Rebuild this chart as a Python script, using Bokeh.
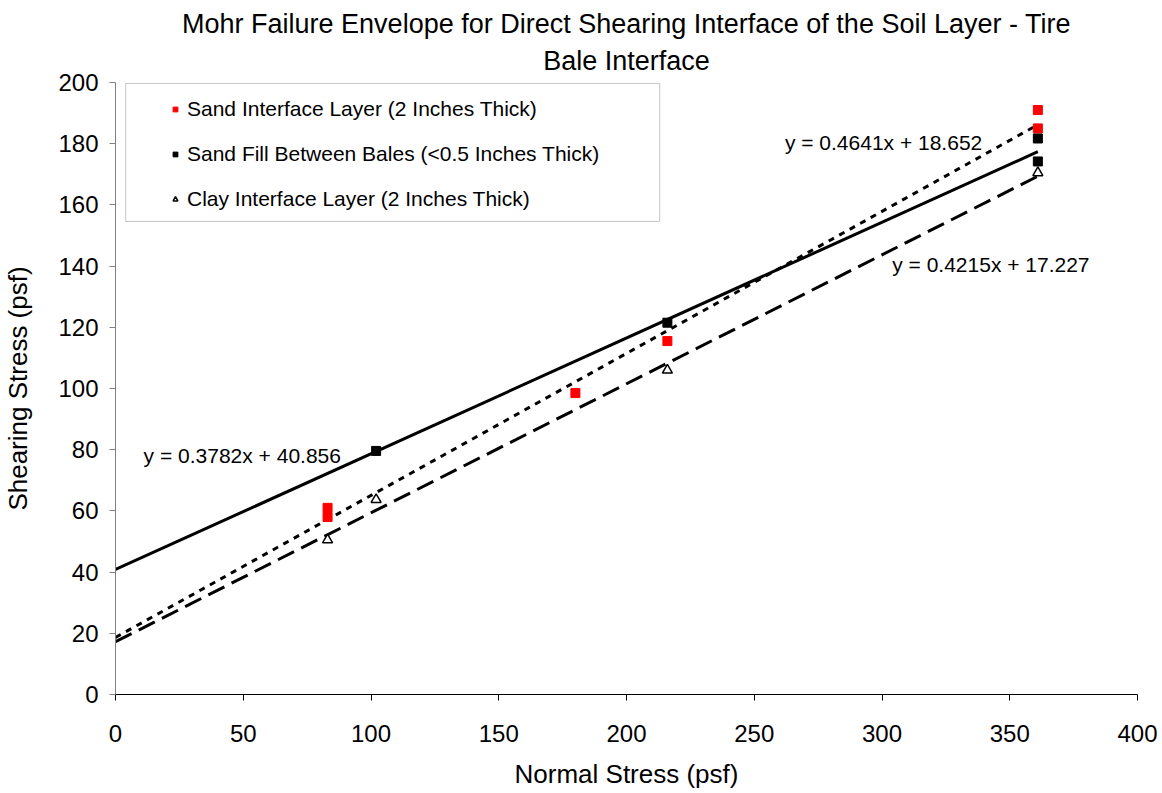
from bokeh.plotting import figure
from bokeh.models import Legend, LegendItem, Label, BoxAnnotation, FixedTicker, Range1d, Title
from bokeh.embed import file_html
from bokeh.resources import INLINE

# --- data ---
sand_x = [83, 83, 180, 216, 361, 361]
sand_y = [61, 58, 98.5, 115.5, 191, 185]
fill_x = [102, 216, 361, 361]
fill_y = [79.6, 121.5, 181.7, 174.2]
clay_x = [83, 102, 216, 361]
clay_y = [50.5, 63.7, 106, 170.5]

sand_fit = (0.4641, 18.652)
fill_fit = (0.3782, 40.856)
clay_fit = (0.4215, 17.227)

x_ticks = [0, 50, 100, 150, 200, 250, 300, 350, 400]
y_ticks = [0, 20, 40, 60, 80, 100, 120, 140, 160, 180, 200]

title_lines = ["Mohr Failure Envelope for Direct Shearing Interface of the Soil Layer - Tire",
               "Bale Interface"]

FONT = "Liberation Sans"

p = figure(width=1162, height=793, output_backend="svg", toolbar_location=None,
           x_range=Range1d(0, 400), y_range=Range1d(0, 200),
           min_border_left=114, min_border_right=25, min_border_top=82, min_border_bottom=99)

p.add_layout(Title(text=title_lines[1], align="center", text_font=FONT, text_font_size="27px",
                   text_font_style="normal", text_color="black", standoff=10,
                   vertical_align="top"), "above")
p.add_layout(Title(text=title_lines[0], align="center", text_font=FONT, text_font_size="27px",
                   text_font_style="normal", text_color="black", standoff=0,
                   vertical_align="top"), "above")

p.outline_line_color = None
p.xgrid.visible = False
p.ygrid.visible = False

for ax in (p.xaxis[0], p.yaxis[0]):
    ax.major_label_text_font = FONT
    ax.major_label_text_font_size = "24px"
    ax.major_label_text_color = "black"
    ax.axis_label_text_font = FONT
    ax.axis_label_text_font_size = "26px"
    ax.axis_label_text_font_style = "normal"
    ax.axis_label_text_color = "black"
    ax.major_tick_in = 0
    ax.major_tick_out = 6
    ax.minor_tick_line_color = None
    ax.axis_line_color = "black"
    ax.major_tick_line_color = "black"

p.xaxis[0].ticker = FixedTicker(ticks=x_ticks)
p.yaxis[0].ticker = FixedTicker(ticks=y_ticks)
p.xaxis[0].axis_label = "Normal Stress (psf)"
p.yaxis[0].axis_label = "Shearing Stress (psf)"
p.xaxis[0].major_label_standoff = 24
p.xaxis[0].axis_label_standoff = 14
p.yaxis[0].major_label_standoff = 11
p.yaxis[0].axis_label_standoff = 22
p.yaxis[0].axis_line_color = "#808080"
p.yaxis[0].major_tick_line_color = "#808080"

# trend lines
def fit_line(xs, fit):
    x0, x1 = 0, max(xs)
    return [x0, x1], [fit[0] * x0 + fit[1], fit[0] * x1 + fit[1]]

lx, ly = fit_line(fill_x, fill_fit)
p.line(lx, ly, line_color="black", line_width=3)
lx, ly = fit_line(sand_x, sand_fit)
p.line(lx, ly, line_color="black", line_width=3, line_dash="6 6")
lx, ly = fit_line(clay_x, clay_fit)
p.line(lx, ly, line_color="black", line_width=3, line_dash="18 8")

r_sand = p.scatter(sand_x, sand_y, marker="square", size=9, fill_color="#ff0000", line_color="#ff0000")
r_fill = p.scatter(fill_x, fill_y, marker="square", size=9, fill_color="black", line_color="black")
r_clay = p.scatter(clay_x, clay_y, marker="triangle", size=10, fill_color="white", line_color="black", line_width=1.5)

def eq(fit):
    return f"y = {fit[0]:.4f}x + {fit[1]:.3f}"

for txt, xx, yy in [(eq(fill_fit), 11, 78), (eq(sand_fit), 262, 180.4), (eq(clay_fit), 304, 140.5)]:
    p.add_layout(Label(x=xx, y=yy, text=txt, text_font=FONT, text_font_size="21px",
                       text_color="black", text_baseline="middle", text_align="left"))

# legend frame
p.add_layout(BoxAnnotation(left=4, right=213, top=199.7, bottom=154.6,
                           fill_color="white", fill_alpha=1.0,
                           line_color="#404040", line_width=1))

legend = Legend(items=[
    LegendItem(label="Sand Interface Layer (2 Inches Thick)", renderers=[r_sand]),
    LegendItem(label="Sand Fill Between Bales (<0.5 Inches Thick)", renderers=[r_fill]),
    LegendItem(label="Clay Interface Layer (2 Inches Thick)", renderers=[r_clay]),
], location=(54, 483), margin=0, padding=10, spacing=21, glyph_width=12, glyph_height=24,
    label_height=24, label_standoff=6, border_line_color=None, background_fill_alpha=0,
    label_text_font=FONT, label_text_font_size="21px", label_text_color="black")
p.add_layout(legend)

open("out.html", "w").write(file_html(p, INLINE))
